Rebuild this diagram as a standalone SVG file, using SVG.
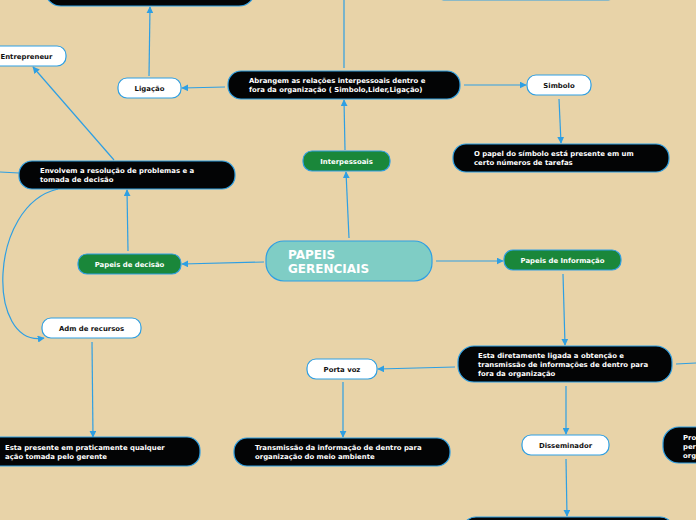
<svg xmlns="http://www.w3.org/2000/svg" width="696" height="520" viewBox="0 0 696 520">
<style>
.bg{fill:#E8D3A8}
.blk{fill:#030405;stroke:#2E9FE3;stroke-width:1.2}
.wht{fill:#FFFFFF;stroke:#2E9FE3;stroke-width:1.2}
.grn{fill:#1A873A;stroke:#2E9FE3;stroke-width:1.2}
.teal{fill:#7FCDC5;stroke:#2E9FE3;stroke-width:1.2}
text{font-family:"DejaVu Sans","Verdana",sans-serif;font-weight:bold;font-size:6.9px}
.tw{fill:#FFFFFF}
.tb{fill:#111111}
.big{font-size:12px;fill:#FFFFFF}
.c{fill:none;stroke:#2E9FE3;stroke-width:1.2}
</style>
<defs>
<marker id="ar" viewBox="0 0 10 10" refX="9" refY="5" markerWidth="7" markerHeight="7" markerUnits="userSpaceOnUse" orient="auto">
<path d="M0,0 L10,5 L0,10 z" fill="#2E9FE3"/>
</marker>
</defs>
<rect class="bg" x="0" y="0" width="696" height="520"/>
<g id="connectors">
<path class="c" d="M349,238 L346,172" marker-end="url(#ar)"/>
<path class="c" d="M345,150 L344,100" marker-end="url(#ar)"/>
<path class="c" d="M344,68 L344,0"/>
<path class="c" d="M225,87 L182,88" marker-end="url(#ar)"/>
<path class="c" d="M464,85 L526,85" marker-end="url(#ar)"/>
<path class="c" d="M559,99 L561,143" marker-end="url(#ar)"/>
<path class="c" d="M149,76 L150,7" marker-end="url(#ar)"/>
<path class="c" d="M264,262 L182,264" marker-end="url(#ar)"/>
<path class="c" d="M128,251 L127,190" marker-end="url(#ar)"/>
<path class="c" d="M114,160 L33,67" marker-end="url(#ar)"/>
<path class="c" d="M19,173 L0,172"/>
<path class="c" d="M58,189 C-12,205 -14,348 44,338" marker-end="url(#ar)"/>
<path class="c" d="M92,342 L93,437" marker-end="url(#ar)"/>
<path class="c" d="M436,261 L503,261" marker-end="url(#ar)"/>
<path class="c" d="M563,274 L565,345" marker-end="url(#ar)"/>
<path class="c" d="M455,367 L378,369" marker-end="url(#ar)"/>
<path class="c" d="M343,382 L343,437" marker-end="url(#ar)"/>
<path class="c" d="M566,386 L566,434" marker-end="url(#ar)"/>
<path class="c" d="M566,459 L567,516" marker-end="url(#ar)"/>
<path class="c" d="M676,364 L696,363"/>
</g>
<g id="n_top_left"><rect class="blk" x="45" y="-30" width="210" height="36" rx="16"/></g>
<g id="n_top_right"><rect class="blk" x="430" y="-40" width="192" height="40" rx="16"/></g>
<g id="n_entrepreneur"><rect class="wht" x="-20" y="46" width="86" height="20" rx="9"/><text class="tb" x="0.5" y="58.5">Entrepreneur</text></g>
<g id="n_ligacao"><rect class="wht" x="118" y="78" width="63" height="20" rx="9"/><text class="tb" x="149.5" y="90.5" text-anchor="middle">Ligação</text></g>
<g id="n_abrangem"><rect class="blk" x="228" y="71" width="232" height="28" rx="13"/><text class="tw" x="249" y="82.5">Abrangem as relações interpessoais dentro e</text><text class="tw" x="249" y="91.5">fora da organização ( Simbolo,Lider,Ligação)</text></g>
<g id="n_simbolo"><rect class="wht" x="527" y="75" width="64" height="20" rx="9"/><text class="tb" x="559" y="87.5" text-anchor="middle">Simbolo</text></g>
<g id="n_papel_simbolo"><rect class="blk" x="453" y="144" width="216" height="28" rx="13"/><text class="tw" x="474" y="155.5">O papel do símbolo está presente em um</text><text class="tw" x="474" y="164.5">certo números de tarefas</text></g>
<g id="n_interpessoais"><rect class="grn" x="303" y="151" width="87" height="20" rx="9"/><text class="tw" x="346.5" y="163.5" text-anchor="middle">Interpessoais</text></g>
<g id="n_envolvem"><rect class="blk" x="19" y="161" width="216" height="28" rx="13"/><text class="tw" x="40" y="172.5">Envolvem a resolução de problemas e a</text><text class="tw" x="40" y="181.5">tomada de decisão</text></g>
<g id="n_decisao"><rect class="grn" x="78" y="254" width="103" height="20" rx="9"/><text class="tw" x="129.5" y="266.5" text-anchor="middle">Papeis de decisão</text></g>
<g id="n_central"><rect class="teal" x="266" y="241" width="166" height="40" rx="18"/><text class="big" x="288" y="259">PAPEIS</text><text class="big" x="288" y="273">GERENCIAIS</text></g>
<g id="n_informacao"><rect class="grn" x="504" y="250" width="117" height="20" rx="9"/><text class="tw" x="562.5" y="262.5" text-anchor="middle">Papeis de Informação</text></g>
<g id="n_adm"><rect class="wht" x="42" y="318" width="99" height="20" rx="9"/><text class="tb" x="91.5" y="330.5" text-anchor="middle">Adm de recursos</text></g>
<g id="n_esta_presente"><rect class="blk" x="-20" y="437" width="220" height="29" rx="13"/><text class="tw" x="5" y="449.5">Esta presente em praticamente qualquer</text><text class="tw" x="5" y="458.5">ação tomada pelo gerente</text></g>
<g id="n_transmissao"><rect class="blk" x="234" y="438" width="216" height="28" rx="13"/><text class="tw" x="255" y="450">Transmissão da informação  de dentro para</text><text class="tw" x="255" y="459">organização do meio ambiente</text></g>
<g id="n_porta_voz"><rect class="wht" x="307" y="359" width="70" height="20" rx="9"/><text class="tb" x="342" y="371.5" text-anchor="middle">Porta voz</text></g>
<g id="n_diretamente"><rect class="blk" x="458" y="346" width="214" height="36" rx="16"/><text class="tw" x="478" y="358">Esta diretamente ligada a obtenção e</text><text class="tw" x="478" y="367">transmissão de informações de dentro para</text><text class="tw" x="478" y="376">fora da organização</text></g>
<g id="n_disseminador"><rect class="wht" x="522" y="435" width="87" height="20" rx="9"/><text class="tb" x="565.5" y="447.5" text-anchor="middle">Disseminador</text></g>
<g id="n_pro"><rect class="blk" x="663" y="427" width="80" height="36" rx="16"/><text class="tw" x="683" y="439.5">Pro</text><text class="tw" x="683" y="448.5">per</text><text class="tw" x="683" y="457.5">org</text></g>
<g id="n_bottom"><rect class="blk" x="462" y="517" width="212" height="30" rx="14"/></g>
</svg>
